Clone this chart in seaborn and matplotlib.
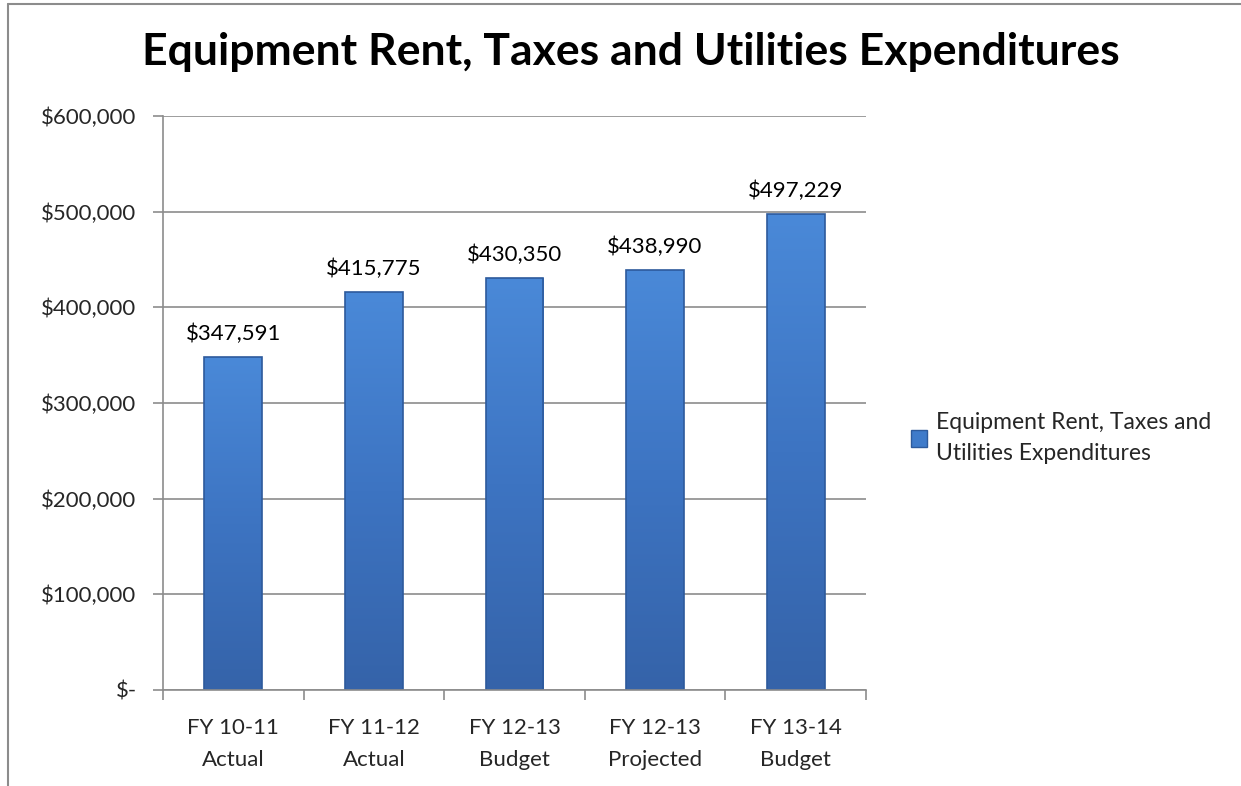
import numpy as np
import pandas as pd
import matplotlib
matplotlib.use("Agg")
import matplotlib.pyplot as plt
import seaborn as sns
from matplotlib.lines import Line2D
from matplotlib.colors import LinearSegmentedColormap
from matplotlib.ticker import FuncFormatter

categories = ['FY 10-11\nActual', 'FY 11-12\nActual', 'FY 12-13\nBudget',
              'FY 12-13\nProjected', 'FY 13-14\nBudget']
values = [347591, 415775, 430350, 438990, 497229]
series_name = 'Equipment Rent, Taxes and\nUtilities Expenditures'
title = 'Equipment Rent, Taxes and Utilities Expenditures'

sns.set_theme(style='white')
plt.rcParams['font.family'] = ['Lato', 'DejaVu Sans']

df = pd.DataFrame({'period': categories, 'amount': values})

fig = plt.figure(figsize=(12.41, 7.86), dpi=100)
ax = fig.add_axes([163 / 1241, 1 - 690 / 786, (866 - 163) / 1241, (690 - 116) / 786])

sns.barplot(data=df, x='period', y='amount', color='#3F7BCA', width=0.41,
            saturation=1, ax=ax, edgecolor='#2D5A9C', linewidth=1.2,
            legend=False)

# vertical gradient inside every bar, outline drawn on top
cmap = LinearSegmentedColormap.from_list('bar', ['#3563A9', '#3D74C2', '#4A89D8'])
grad = np.linspace(0, 1, 256).reshape(-1, 1)
for bar in ax.patches:
    x0, y0 = bar.get_x(), bar.get_y()
    z = bar.get_zorder()
    im = ax.imshow(grad, cmap=cmap, origin='lower', aspect='auto',
                   extent=[x0, x0 + bar.get_width(), y0, y0 + bar.get_height()],
                   zorder=z + 0.1)
    im.set_clip_path(bar)
    bar.set_facecolor('none')
    bar.set_zorder(z + 0.2)

def money(v, pos):
    if v == 0:
        return '$-'
    return '${:,.0f}'.format(v)

ax.set_ylim(0, 600000)
ax.set_yticks(range(0, 600001, 100000))
ax.yaxis.set_major_formatter(FuncFormatter(money))
ax.set_xlim(-0.5, len(categories) - 0.5)
ax.grid(axis='y', color='#8C8C8C', linewidth=1.2)
ax.set_axisbelow(True)
ax.set_xlabel('')
ax.set_ylabel('')
for side in ['top', 'right']:
    ax.spines[side].set_visible(False)
for side in ['left', 'bottom']:
    ax.spines[side].set_color('#8C8C8C')
    ax.spines[side].set_linewidth(1.2)

ax.tick_params(axis='y', left=True, length=7, width=1.2, color='#8C8C8C',
               labelsize=16, pad=12)
ax.set_xticks([i + 0.5 for i in range(-1, len(categories))], minor=True)
ax.tick_params(axis='x', which='minor', bottom=True, length=7, width=1.2,
               color='#8C8C8C')
ax.tick_params(axis='x', which='major', bottom=False, labelsize=16, pad=14)
for lbl in ax.get_xticklabels():
    lbl.set_linespacing(1.75)

for i, v in enumerate(values):
    ax.text(i, v + 14000, '${:,.0f}'.format(v), ha='center', va='bottom',
            fontsize=16, color='black')

fig.text(0.508, 1 - 52 / 786, title, ha='center', va='center',
         fontsize=32, fontweight='bold', color='black')

handles = [plt.Rectangle((0, 0), 1, 1, facecolor='#3F7BCA', edgecolor='#2D5A9C')]
leg = fig.legend(handles, [series_name],
                 loc='center left', bbox_to_anchor=(902 / 1241, 1 - 438 / 786),
                 frameon=False, fontsize=16.5, handlelength=0.7, handleheight=0.7,
                 handletextpad=0.4, borderaxespad=0)
for t in leg.get_texts():
    t.set_linespacing(1.55)

fig.add_artist(Line2D([8 / 1241, 8 / 1241], [0, 1 - 4 / 786],
                      transform=fig.transFigure, color='#8C8C8C', linewidth=1.5))
fig.add_artist(Line2D([8 / 1241, 1], [1 - 4 / 786, 1 - 4 / 786],
                      transform=fig.transFigure, color='#8C8C8C', linewidth=1.5))

fig.savefig('out.png', dpi=100)
plt.close()
